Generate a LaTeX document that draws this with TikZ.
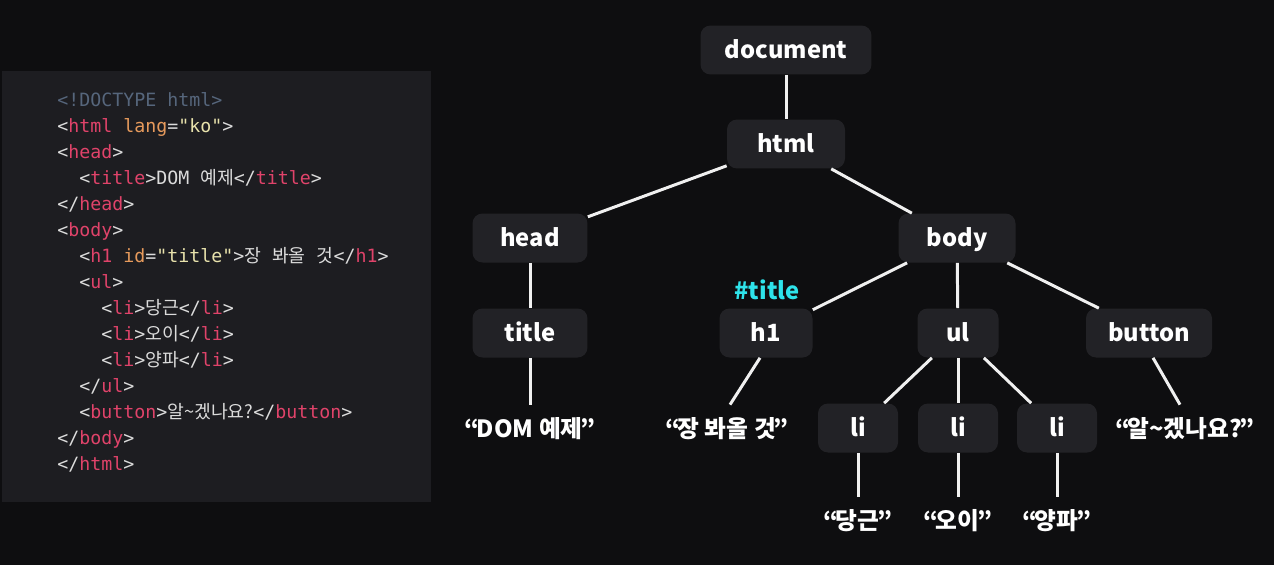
\documentclass[tikz,border=0pt]{standalone}
\usepackage{fontspec}
\usepackage{xcolor}
\usetikzlibrary{positioning}

\newfontfamily\codefont{DejaVu Sans Mono}[Ligatures=TeXOff]
\newfontfamily\hangulfont{Noto Sans CJK KR}
\newfontfamily\treefont{Noto Sans CJK KR}

\definecolor{bgcol}{HTML}{0E0E10}
\definecolor{panelcol}{HTML}{1D1D21}
\definecolor{boxcol}{HTML}{222226}
\definecolor{codetxt}{HTML}{DCDCDC}
\definecolor{tagred}{HTML}{E0436A}
\definecolor{attrorange}{HTML}{E69A5C}
\definecolor{valyellow}{HTML}{E8E2AC}
\definecolor{doccol}{HTML}{56667C}
\definecolor{idcyan}{HTML}{2EE3EA}

\newcommand\tagname[1]{\textcolor{tagred}{#1}}
\newcommand\attrname[1]{\textcolor{attrorange}{#1}}
\newcommand\attrval[1]{\textcolor{valyellow}{#1}}
\newcommand\hangul[1]{{\hangulfont #1}}
\newcommand\dq[1]{“\kern-0.12em#1\kern-0.1em”}

\begin{document}
\begin{tikzpicture}[
    x=0.02cm, y=-0.02cm,
    codeln/.style={anchor=west, inner sep=0pt, text height=10.5pt, text depth=1.6pt,
      font=\codefont\fontsize{10.4}{12}\selectfont, text=codetxt},
    box/.style={fill=boxcol, rounded corners=0.2cm, minimum height=0.98cm, inner sep=0pt,
      text height=1.05em, text depth=0.1em, text=white,
      font=\treefont\bfseries\fontsize{13.5}{16}\selectfont},
    leaf/.style={inner sep=0pt, minimum height=0.96cm, text height=1.05em, text depth=0.1em,
      text=white, font=\treefont\bfseries\fontsize{13.5}{16}\selectfont},
    link/.style={draw=white!94!black, line width=1.7pt},
  ]

  % --- background and code panel ---
  \fill[bgcol] (0,0) rectangle (1274,565);
  \useasboundingbox (0,0) rectangle (1274,565);
  \fill[panelcol] (2,71) rectangle (431,502);

  % --- HTML source ---
  \node[codeln, text=doccol] (c1) at (57,99) {<!DOCTYPE html>};
  \node[codeln] (c2) at (57,125) {<\tagname{html} \attrname{lang}=\attrval{"ko"}>};
  \node[codeln] (c3) at (57,151) {<\tagname{head}>};
  \node[codeln] (c4) at (79,177) {<\tagname{title}>DOM \hangul{예제}</\tagname{title}>};
  \node[codeln] (c5) at (57,203) {</\tagname{head}>};
  \node[codeln] (c6) at (57,229) {<\tagname{body}>};
  \node[codeln] (c7) at (79,255) {<\tagname{h1} \attrname{id}=\attrval{"title"}>\hangul{장} \hangul{봐올} \hangul{것}</\tagname{h1}>};
  \node[codeln] (c8) at (79,281) {<\tagname{ul}>};
  \node[codeln] (c9) at (101,307) {<\tagname{li}>\hangul{당근}</\tagname{li}>};
  \node[codeln] (c10) at (101,333) {<\tagname{li}>\hangul{오이}</\tagname{li}>};
  \node[codeln] (c11) at (101,359) {<\tagname{li}>\hangul{양파}</\tagname{li}>};
  \node[codeln] (c12) at (79,385) {</\tagname{ul}>};
  \node[codeln] (c13) at (79,411) {<\tagname{button}>\hangul{알\textasciitilde{}겠나요?}</\tagname{button}>};
  \node[codeln] (c14) at (57,437) {</\tagname{body}>};
  \node[codeln] (c15) at (57,463) {</\tagname{html}>};

  % --- DOM tree ---
  \node[box, minimum width=3.42cm] (doc) at (786,50) {document};
  \node[box, minimum width=2.36cm] (html) at (786,144) {html};
  \node[box, minimum width=2.3cm] (head) at (530,238) {head};
  \node[box, minimum width=2.34cm] (body) at (957,238) {body};
  \node[box, minimum width=2.3cm] (title) at (530,333) {title};
  \node[box, minimum width=1.86cm] (h1) at (766,333) {h1};
  \node[box, minimum width=1.62cm] (ul) at (958,333) {ul};
  \node[box, minimum width=2.52cm] (button) at (1149,333) {button};
  \node[box, minimum width=1.6cm] (li1) at (858,428) {li};
  \node[box, minimum width=1.6cm] (li2) at (958,428) {li};
  \node[box, minimum width=1.6cm] (li3) at (1057,428) {li};
  \node[leaf, text=idcyan, minimum height=0pt] (h1id) at (767,291) {\#title};

  % --- text nodes ---
  \node[leaf] (titletxt) at (530,429) {\dq{DOM 예제}};
  \node[leaf] (h1txt) at (727,429) {\dq{장 봐올 것}};
  \node[leaf] (buttontxt) at (1185,429) {\dq{알\textasciitilde{}겠나요?}};
  \node[leaf] (li1txt) at (858,521) {\dq{당근}};
  \node[leaf] (li2txt) at (958,521) {\dq{오이}};
  \node[leaf] (li3txt) at (1057,521) {\dq{양파}};

  % --- links ---
  \draw[link] (doc) -- (html);
  \draw[link] (html) -- (head);
  \draw[link] (html) -- (body);
  \draw[link] (head) -- (title);
  \draw[link] (body) -- (h1);
  \draw[link] (body) -- (ul);
  \draw[link] (body) -- (button);
  \draw[link] (ul) -- (li1);
  \draw[link] (ul) -- (li2);
  \draw[link] (ul) -- (li3);
  \draw[link] (title) -- (titletxt);
  \draw[link] ([xshift=-0.12cm]h1.south) -- ([xshift=0.06cm]h1txt.north);
  \draw[link] ([xshift=0.08cm]button.south) -- ([xshift=-0.1cm]buttontxt.north);
  \draw[link] (li1) -- (li1txt);
  \draw[link] (li2) -- (li2txt);
  \draw[link] (li3) -- (li3txt);

\end{tikzpicture}
\end{document}
